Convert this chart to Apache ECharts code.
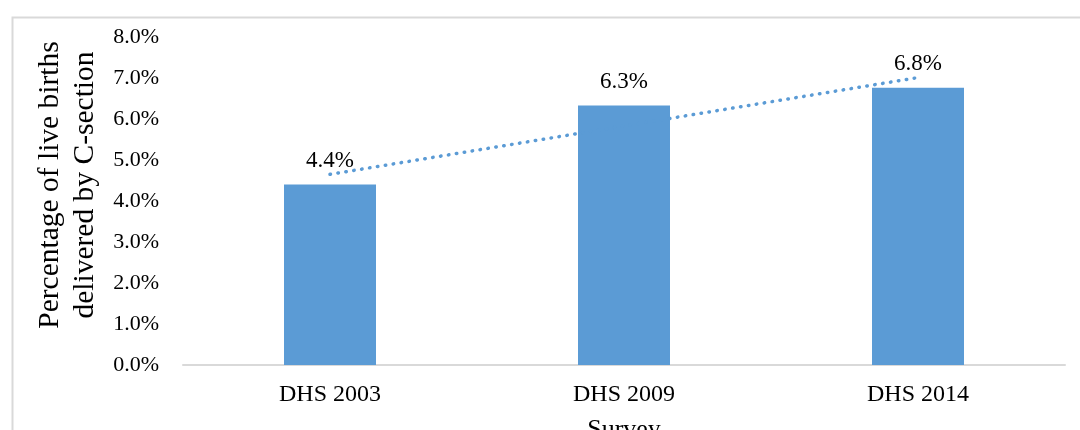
<!DOCTYPE html>
<html>
<head>
<meta charset="utf-8">
<script src="https://cdn.jsdelivr.net/npm/echarts@6/dist/echarts.min.js"></script>
<style>
  html, body { margin: 0; padding: 0; background: #fff; }
  #chart { width: 1080px; height: 430px; }
</style>
</head>
<body>
<div id="chart"></div>
<script>
let $ = a => document.querySelector(a)

// data
let surveys = ['DHS 2003', 'DHS 2009', 'DHS 2014']
let csectionPct = [4.4, 6.33, 6.76]
let trendPct = [4.65, 5.83, 7.01]   // dotted linear trend line
let yTicks = [0, 1, 2, 3, 4, 5, 6, 7, 8]

let serif = '"Liberation Serif", "Times New Roman", serif'
let blue = '#5b9bd5'

{
    echarts.init($('#chart')).setOption({
        animation: false,
        textStyle: { fontFamily: serif, color: '#000' },
        graphic: [{
            // outer chart frame
            type: 'rect',
            left: 10, top: 15,
            shape: { width: 1100, height: 500 },
            style: { fill: 'none', stroke: '#d9d9d9', lineWidth: 2 },
            silent: true
        }],
        grid: { left: 183, right: 15, top: 37, bottom: 65, outerBoundsMode: 'none', containLabel: false },
        xAxis: {
            type: 'category',
            data: surveys,
            name: 'Survey',
            nameLocation: 'middle',
            nameGap: 52,
            nameTextStyle: { fontFamily: serif, fontSize: 26, color: '#000' },
            axisLine: { lineStyle: { color: '#d9d9d9', width: 2 } },
            axisTick: { show: false },
            axisLabel: { fontFamily: serif, fontSize: 24, color: '#000', margin: 18 }
        },
        yAxis: {
            type: 'value',
            min: yTicks[0],
            max: yTicks[yTicks.length - 1],
            interval: 1,
            name: 'Percentage of live births\ndelivered by C-section',
            nameLocation: 'middle',
            nameGap: 78,
            nameRotate: 90,
            nameTextStyle: {
                fontFamily: serif, fontSize: 29.5, color: '#000',
                lineHeight: 35, padding: [0, 0, 0, 32]
            },
            axisLine: { show: false },
            axisTick: { show: false },
            splitLine: { show: false },
            axisLabel: {
                fontFamily: serif, fontSize: 22, color: '#000', margin: 24,
                formatter: v => v.toFixed(1) + '%'
            }
        },
        series: [
            {
                // trend line, drawn first so the bars sit on top of it
                name: 'trend',
                type: 'line',
                data: trendPct,
                symbol: 'none',
                silent: true,
                lineStyle: { color: blue, width: 3.5, type: [0.5, 7.5], cap: 'round' }
            },
            {
                name: 'C-section',
                type: 'bar',
                data: csectionPct,
                barWidth: 92,
                itemStyle: { color: blue },
                label: {
                    show: true,
                    position: 'top',
                    distance: 12,
                    fontFamily: serif,
                    fontSize: 23,
                    color: '#000',
                    formatter: p => p.value.toFixed(1) + '%'
                }
            }
        ]
    })
}
</script>
</body>
</html>
